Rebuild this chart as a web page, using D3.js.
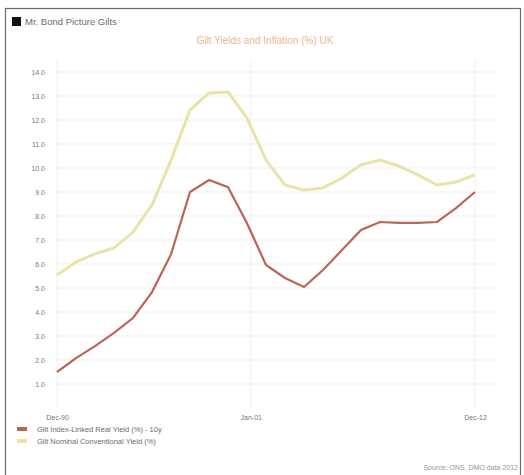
<!DOCTYPE html>
<html>
<head>
<meta charset="utf-8">
<script src="https://cdnjs.cloudflare.com/ajax/libs/d3/7.8.5/d3.min.js"></script>
<style>
  body { margin: 0; background: #fff; }
  svg { display: block; font-family: "Liberation Sans", Arial, sans-serif; }
  .axis path, .axis line { stroke: none; }
  .axis text { fill: #7c7678; font-size: 7px; }
  .grid line { stroke: #f1eeee; }
</style>
</head>
<body>
<div id="chart"></div>
<script>
var years = [1990, 1991, 1992, 1993, 1994, 1995, 1996, 1997, 1998, 1999, 2000, 2001,
             2002, 2003, 2004, 2005, 2006, 2007, 2008, 2009, 2010, 2011, 2012]
var redSeries = [1.5, 2.08, 2.58, 3.13, 3.75, 4.83, 6.4, 9.0, 9.5, 9.2, 7.7, 5.96,
                 5.42, 5.04, 5.75, 6.58, 7.42, 7.75, 7.71, 7.71, 7.75, 8.33, 9.0]
var yellowSeries = [5.54, 6.08, 6.42, 6.67, 7.33, 8.46, 10.33, 12.42, 13.13, 13.17, 12.08, 10.33,
                    9.29, 9.08, 9.17, 9.58, 10.13, 10.33, 10.08, 9.71, 9.29, 9.42, 9.71]
var yTicks = [1, 2, 3, 4, 5, 6, 7, 8, 9, 10, 11, 12, 13, 14]
var xTicks = [1990, 2000.2, 2012]
var xTickLabels = ['Dec-90', 'Jan-01', 'Dec-12']
var seriesNames = ['Gilt Index-Linked Real Yield (%) - 10y', 'Gilt Nominal Conventional Yield (%)']

var W = 524, H = 475
var svg = d3.select('#chart').append('svg').attr('width', W).attr('height', H)

// outer frame
svg.append('rect').attr('x', 5.5).attr('y', 8.5).attr('width', 515).attr('height', 470)
  .attr('fill', '#fff').attr('stroke', '#6d6a6a').attr('stroke-width', 1.2)

var x = d3.scaleLinear().domain([1990, 2012]).range([57, 475])
var y = d3.scaleLinear().domain([0, 14]).range([408, 72])

// header
svg.append('rect').attr('x', 12).attr('y', 17).attr('width', 9).attr('height', 9).attr('fill', '#111')
svg.append('text').attr('x', 25).attr('y', 25).attr('font-size', 9.5).attr('fill', '#6f6a6c')
  .text('Mr. Bond Picture Gilts')
svg.append('text').attr('x', 265).attr('y', 44).attr('text-anchor', 'middle')
  .attr('font-size', 10).attr('fill', '#e9b98f').text('Gilt Yields and Inflation (%) UK')

// grid
svg.append('g').attr('class', 'grid')
  .selectAll('line').data(yTicks).join('line')
  .attr('x1', 55).attr('x2', 495).attr('y1', d => y(d)).attr('y2', d => y(d))
svg.append('g').attr('class', 'grid')
  .selectAll('line').data(xTicks).join('line')
  .attr('x1', d => x(d)).attr('x2', d => x(d)).attr('y1', 60).attr('y2', 408)

// axes
svg.append('g').attr('class', 'axis').attr('transform', 'translate(48,0)')
  .call(d3.axisLeft(y).tickValues(yTicks).tickSize(0).tickFormat(d3.format('.1f')))
svg.append('g').attr('class', 'axis').attr('transform', 'translate(0,412)')
  .call(d3.axisBottom(x).tickValues(xTicks).tickSize(0).tickFormat((d, i) => xTickLabels[i]))

// lines
var line = d3.line().x((d, i) => x(years[i])).y(d => y(d))
svg.append('path').datum(yellowSeries).attr('d', line)
  .attr('fill', 'none').attr('stroke', '#ebe3a6').attr('stroke-width', 3)
svg.append('path').datum(redSeries).attr('d', line)
  .attr('fill', 'none').attr('stroke', '#bd6458').attr('stroke-width', 2.2)

// legend
var legendColors = ['#bd6458', '#ebe3a6']
var lg = svg.append('g').selectAll('g').data(seriesNames).join('g')
  .attr('transform', (d, i) => 'translate(17,' + (430 + i * 12) + ')')
lg.append('rect').attr('x', 0).attr('y', -3).attr('width', 10).attr('height', 4)
  .attr('fill', (d, i) => legendColors[i])
lg.append('text').attr('x', 20).attr('y', 2).attr('font-size', 7.5).attr('fill', '#6f6a6c').text(d => d)

// credit
svg.append('text').attr('x', 518).attr('y', 470).attr('text-anchor', 'end')
  .attr('font-size', 7).attr('fill', '#9a9597').text('Source: ONS, DMO data 2012')
</script>
</body>
</html>
